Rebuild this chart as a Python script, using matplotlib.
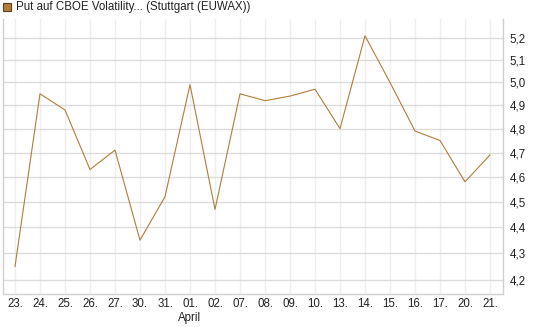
import matplotlib
matplotlib.use("Agg")
import matplotlib.pyplot as plt
from matplotlib.ticker import FixedLocator, NullLocator, FixedFormatter
from matplotlib.patches import Rectangle
from matplotlib.transforms import offset_copy

plt.rcParams['font.family'] = ['Liberation Sans', 'DejaVu Sans']

dates = ["23.", "24.", "25.", "26.", "27.", "30.", "31.", "01.", "02.", "07.",
         "08.", "09.", "10.", "13.", "14.", "15.", "16.", "17.", "20.", "21."]
values = [4.25, 4.95, 4.88, 4.63, 4.71, 4.35, 4.52, 4.99, 4.47, 4.95,
          4.92, 4.94, 4.97, 4.80, 5.21, 5.00, 4.79, 4.75, 4.58, 4.69]
yticks = [4.2, 4.3, 4.4, 4.5, 4.6, 4.7, 4.8, 4.9, 5.0, 5.1, 5.2]
ytick_labels = ["4,2", "4,3", "4,4", "4,5", "4,6", "4,7", "4,8", "4,9", "5,0", "5,1", "5,2"]
month_label = "April"
month_index = 7
legend_text = "Put auf CBOE Volatility... (Stuttgart (EUWAX))"

W, H = 545, 327
fig = plt.figure(figsize=(W / 100, H / 100), dpi=100)
left, right, top, bottom = 3, 503, 19, 294
ax = fig.add_axes([left / W, 1 - bottom / H, (right - left) / W, (bottom - top) / H])

line_color = "#B07D3A"
x = list(range(len(values)))
ax.plot(x, values, color=line_color, lw=0.8, zorder=3)

ax.set_yscale("log")
ax.set_ylim(4.148, 5.288)
ax.set_xlim(-0.48, len(values) - 1 + 0.52)
ax.yaxis.set_major_locator(FixedLocator(yticks))
ax.yaxis.set_major_formatter(FixedFormatter(ytick_labels))
ax.yaxis.set_minor_locator(NullLocator())
ax.set_xticks(x)
ax.set_xticklabels(dates)

ax.yaxis.tick_right()
ax.tick_params(axis="y", which="both", length=0, pad=5, labelsize=8.3, colors="#222222")
ax.tick_params(axis="x", length=0, pad=3, labelsize=8.3, colors="#222222")

for yv in yticks:
    ax.axhline(yv, color="#dcdcdc", lw=1.0, zorder=1)
for xv in x:
    ax.axvline(xv, color="#efefef", lw=1.0, zorder=0)

for s in ["left", "right", "bottom"]:
    ax.spines[s].set_color("#d0d0d0")
    ax.spines[s].set_linewidth(1.0)
ax.spines["top"].set_visible(False)

ax.text(month_index, 4.148, month_label, ha="center", va="top",
        fontsize=8.3, color="#222222",
        transform=offset_copy(ax.transData, fig=fig, x=0, y=-18, units="dots"))

# legend
fig.patches.append(Rectangle((3 / W, 1 - 11 / H), 8 / W, 8 / H, transform=fig.transFigure,
                             facecolor=line_color, edgecolor="#5a4020", lw=0.8))
fig.text(16 / W, 1 - 7 / H, legend_text, ha="left", va="center", fontsize=8.3, color="#222222")

fig.savefig("out.png", dpi=100)
